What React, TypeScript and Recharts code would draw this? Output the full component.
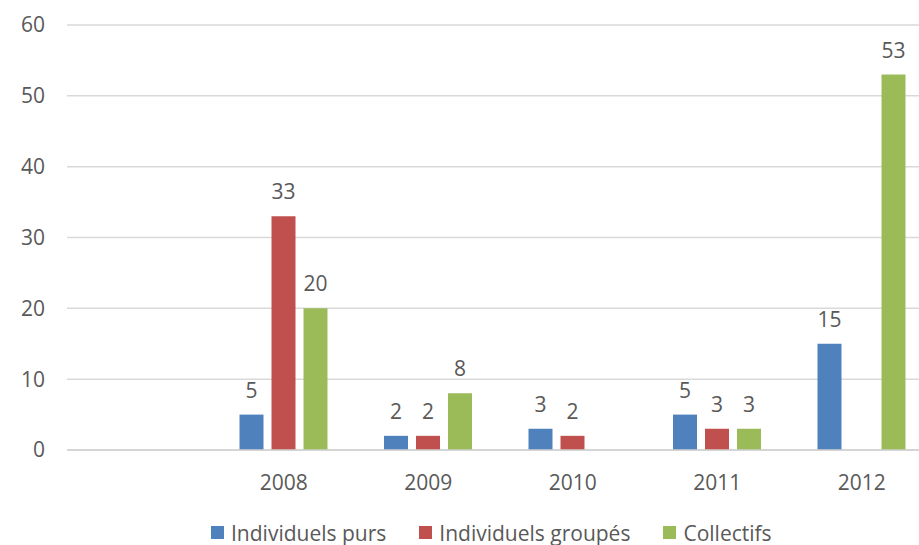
import React from "react";
import { Bar, BarChart, CartesianGrid, LabelList, Legend, XAxis, YAxis } from "recharts";

const years = ["", "2008", "2009", "2010", "2011", "2012"];
const individuelsPurs = [null, 5, 2, 3, 5, 15];
const individuelsGroupes = [null, 33, 2, 2, 3, 0];
const collectifs = [null, 20, 8, 0, 3, 53];
const yTicks = [0, 10, 20, 30, 40, 50, 60];

const series = [
  { key: "purs", name: "Individuels purs", color: "#4f81bd" },
  { key: "groupes", name: "Individuels groupés", color: "#c0504d" },
  { key: "collectifs", name: "Collectifs", color: "#9bbb59" },
];

const data = years.map((year, i) => ({
  year,
  purs: individuelsPurs[i],
  groupes: individuelsGroupes[i],
  collectifs: collectifs[i],
}));

const FONT = "'Open Sans', sans-serif";
const TEXT = "#595959";

const showValue = (v: any) => (v === null || v === undefined || v === 0 ? "" : v);

function LegendContent() {
  return (
    <div
      style={{
        display: "flex",
        alignItems: "center",
        height: 35,
        paddingLeft: 211,
        paddingTop: 10,
        boxSizing: "border-box",
        fontFamily: FONT,
        fontSize: 21,
        color: TEXT,
      }}
    >
      {series.map((s, i) => (
        <div key={s.key} style={{ display: "flex", alignItems: "center", marginRight: i < 2 ? 33 : 0 }}>
          <span style={{ width: 13, height: 13, background: s.color, marginRight: 7, display: "inline-block" }} />
          <span style={{ whiteSpace: "nowrap" }}>{s.name}</span>
        </div>
      ))}
    </div>
  );
}

export default function App() {
  return (
    <div style={{ position: "fixed", top: 0, left: 0, width: 919, height: 545, overflow: "hidden", background: "#fff" }}>
      <BarChart
        width={940}
        height={545}
        data={data}
        margin={{ top: 25, right: 6, bottom: 0, left: 0 }}
        barSize={24}
        barGap={8}
      >
        <CartesianGrid vertical={false} stroke="#d9d9d9" strokeWidth={1.5} />
        <XAxis
          dataKey="year"
          height={60}
          tickLine={false}
          tickSize={0}
          tickMargin={25}
          axisLine={{ stroke: "#d0d0d0", strokeWidth: 1.5 }}
          tick={{ fill: TEXT, fontSize: 21, fontFamily: FONT }}
          interval={0}
        />
        <YAxis
          width={67}
          domain={[0, 60]}
          ticks={yTicks}
          axisLine={false}
          tickLine={false}
          tickSize={0}
          tickMargin={22}
          tick={{ fill: TEXT, fontSize: 21, fontFamily: FONT }}
        />
        <Legend verticalAlign="bottom" height={35} content={() => <LegendContent />} />
        {series.map((s) => (
          <Bar key={s.key} dataKey={s.key} name={s.name} fill={s.color} isAnimationActive={false}>
            <LabelList
              dataKey={s.key}
              position="top"
              offset={17}
              formatter={showValue}
              style={{ fill: TEXT, fontSize: 21, fontFamily: FONT }}
            />
          </Bar>
        ))}
      </BarChart>
    </div>
  );
}
